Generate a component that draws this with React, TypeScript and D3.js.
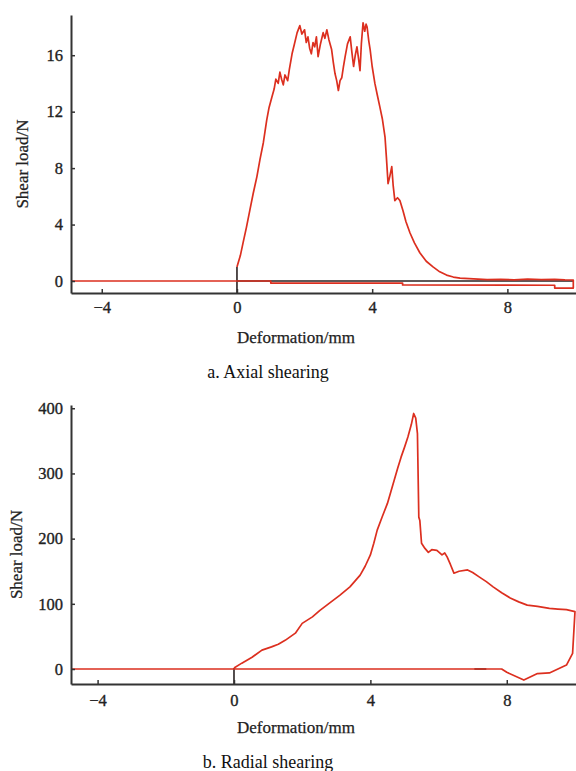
import React, { useEffect, useRef } from "react";
import * as d3 from "d3";

// ---------- Data: (a) Axial shearing ----------
const axialX = [0, 0.1, 0.18, 0.28, 0.38, 0.48, 0.59, 0.68, 0.78, 0.83, 0.88, 0.95, 1.03, 1.1, 1.15, 1.22, 1.27, 1.32, 1.37, 1.42, 1.5, 1.55, 1.63, 1.7, 1.78, 1.86, 1.92, 2.0, 2.05, 2.1, 2.15, 2.2, 2.25, 2.3, 2.35, 2.4, 2.47, 2.55, 2.6, 2.66, 2.72, 2.8, 2.85, 2.9, 2.95, 3.0, 3.05, 3.1, 3.15, 3.2, 3.27, 3.35, 3.4, 3.45, 3.5, 3.55, 3.6, 3.64, 3.68, 3.73, 3.78, 3.82, 3.85, 3.9, 3.94, 4.0, 4.08, 4.15, 4.23, 4.3, 4.38, 4.42, 4.47, 4.52, 4.58, 4.62, 4.67, 4.75, 4.82, 4.91, 5.0, 5.12, 5.25, 5.41, 5.6, 5.8, 6.0, 6.2, 6.4, 6.6, 7.0, 7.4, 7.8, 8.2, 8.6, 9.0, 9.4, 9.7, 9.95, 9.95, 9.4, 9.4, 4.9, 4.9, 1.0, 1.0, -4.91];
const axialY = [1.0, 1.8, 2.7, 3.8, 5.0, 6.2, 7.4, 8.6, 9.8, 10.6, 11.4, 12.3, 13.0, 13.6, 14.3, 14.0, 14.8, 14.3, 13.9, 14.6, 14.2, 15.0, 16.1, 16.8, 17.6, 18.1, 17.5, 17.8, 16.9, 17.3, 16.5, 16.1, 16.9, 16.6, 17.3, 15.9, 16.8, 17.6, 17.2, 17.8, 17.1, 16.4, 15.5, 14.7, 14.2, 13.5, 14.2, 14.4, 15.2, 15.9, 16.8, 17.3, 16.2, 15.2, 16.0, 16.6, 15.7, 14.9, 16.8, 18.3, 17.7, 18.2, 18.0, 17.0, 16.4, 15.2, 14.0, 13.2, 12.3, 11.5, 10.2, 8.8, 6.9, 7.4, 8.1, 6.8, 5.7, 5.9, 5.7, 5.0, 4.2, 3.4, 2.7, 2.0, 1.4, 1.0, 0.65, 0.42, 0.28, 0.2, 0.15, 0.1, 0.12, 0.08, 0.13, 0.1, 0.12, 0.08, 0.07, -0.5, -0.5, -0.3, -0.28, -0.15, -0.15, 0, 0];
const axialBlackX = [0, 0, 0, 9.95];
const axialBlackY = [-0.85, 1.0, 0, 0];

// ---------- Data: (b) Radial shearing ----------
const radialX = [0, 0.23, 0.53, 0.82, 1.1, 1.3, 1.5, 1.8, 2.0, 2.3, 2.52, 2.8, 3.1, 3.4, 3.7, 3.85, 4.0, 4.1, 4.2, 4.35, 4.5, 4.6, 4.7, 4.8, 4.9, 5.0, 5.1, 5.2, 5.27, 5.33, 5.38, 5.42, 5.45, 5.5, 5.6, 5.7, 5.8, 5.95, 6.1, 6.18, 6.25, 6.35, 6.45, 6.6, 6.85, 7.0, 7.2, 7.4, 7.6, 7.85, 8.1, 8.35, 8.6, 8.9, 9.25, 9.5, 9.75, 10.0, 9.93, 9.75, 9.25, 8.9, 8.5, 8.0, 7.85, -4.78];
const radialY = [1.5, 9, 18, 29, 34, 38, 44, 55, 70, 80, 90, 101, 113, 126, 144, 158, 175, 193, 213, 234, 254, 272, 290, 308, 325, 340, 356, 375, 392, 385, 361, 233, 228, 193, 185, 179, 183, 182, 175, 178, 172, 160, 147, 150, 152, 148, 141, 134, 126, 117, 109, 103, 98, 96, 93, 92, 91, 88, 24, 6, -6, -7, -17, -5, 0, 0];
const radialBlackX = [0, 0, 7.05, 7.4];
const radialBlackY = [-23, 1.5, 0, 0];

const axialTicksX = [-4, 0, 4, 8];
const axialTicksY = [0, 4, 8, 12, 16];
const radialTicksX = [-4, 0, 4, 8];
const radialTicksY = [0, 100, 200, 300, 400];

const W = 576;
const H = 771;
const RED = "#dc2f1f";
const FONT = "'Liberation Serif', 'Times New Roman', serif";

type Panel = {
  xs: number[];
  ys: number[];
  bx: number[];
  by: number[];
  xDomain: [number, number];
  yDomain: [number, number];
  top: number;
  bottom: number;
  xTicks: number[];
  yTicks: number[];
  xPad: number;
  xLabelY: number;
  caption: string;
  captionY: number;
  yLabelX: number;
};

const panels: Panel[] = [
  {
    xs: axialX, ys: axialY, bx: axialBlackX, by: axialBlackY,
    xDomain: [-4.91, 10.03], yDomain: [-0.85, 18.85], top: 15, bottom: 293,
    xTicks: axialTicksX, yTicks: axialTicksY, xPad: 8,
    xLabelY: 343, caption: "a. Axial shearing", captionY: 378, yLabelX: 22,
  },
  {
    xs: radialX, ys: radialY, bx: radialBlackX, by: radialBlackY,
    xDomain: [-4.78, 10.03], yDomain: [-23, 405], top: 405, bottom: 684,
    xTicks: radialTicksX, yTicks: radialTicksY, xPad: 10,
    xLabelY: 733, caption: "b. Radial shearing", captionY: 768, yLabelX: 16,
  },
];

export default function App() {
  const ref = useRef<SVGSVGElement | null>(null);

  useEffect(() => {
    const svg = d3.select(ref.current);
    svg.selectAll("*").remove();
    const left = 71;
    const right = 576;

    panels.forEach((p) => {
      const x = d3.scaleLinear().domain(p.xDomain).range([left, right]);
      const y = d3.scaleLinear().domain(p.yDomain).range([p.bottom, p.top]);
      const g = svg.append("g");

      const line = d3
        .line<number>()
        .x((_, i) => x(p.xs[i]))
        .y((_, i) => y(p.ys[i]));

      for (let i = 0; i < p.bx.length; i += 2) {
        g.append("line")
          .attr("x1", x(p.bx[i]))
          .attr("y1", y(p.by[i]))
          .attr("x2", x(p.bx[i + 1]))
          .attr("y2", y(p.by[i + 1]))
          .attr("stroke", "#2a2222")
          .attr("stroke-width", 1.6);
      }

      g.append("path")
        .attr("d", line(p.xs as any) as string)
        .attr("fill", "none")
        .attr("stroke", RED)
        .attr("stroke-width", 1.7)
        .attr("stroke-linejoin", "round");

      const styleText = (sel: any, size: number) =>
        sel
          .attr("font-family", FONT)
          .attr("font-size", size)
          .attr("fill", "#222")
          .attr("stroke", "#222")
          .attr("stroke-width", 0.35);

      const xAxis = d3
        .axisBottom(x)
        .tickValues(p.xTicks)
        .tickSizeInner(-4)
        .tickSizeOuter(0)
        .tickPadding(p.xPad)
        .tickFormat(d3.format("d") as any);
      const gx = g.append("g").attr("transform", `translate(0,${p.bottom})`).call(xAxis);
      gx.attr("font-family", null).attr("font-size", null);
      gx.select(".domain").attr("stroke", "#333").attr("stroke-width", 2);
      gx.selectAll(".tick line").attr("stroke", "#333").attr("stroke-width", 1.5);
      styleText(gx.selectAll(".tick text"), 16.5);

      const yAxis = d3
        .axisLeft(y)
        .tickValues(p.yTicks)
        .tickSizeInner(-4)
        .tickSizeOuter(0)
        .tickPadding(8)
        .tickFormat(d3.format("d") as any);
      const gy = g.append("g").attr("transform", `translate(${left},0)`).call(yAxis);
      gy.attr("font-family", null).attr("font-size", null);
      gy.select(".domain").attr("stroke", "#333").attr("stroke-width", 2);
      gy.selectAll(".tick line").attr("stroke", "#333").attr("stroke-width", 1.5);
      styleText(gy.selectAll(".tick text"), 16.5);

      styleText(
        g.append("text")
          .attr("x", 296)
          .attr("y", p.xLabelY)
          .attr("text-anchor", "middle"),
        17
      ).attr("stroke-width", 0.25).text("Deformation/mm");

      styleText(
        g.append("text")
          .attr("transform", `translate(${p.yLabelX},${(p.top + p.bottom) / 2 + 10}) rotate(-90)`)
          .attr("dy", "0.35em")
          .attr("text-anchor", "middle"),
        17
      ).attr("stroke-width", 0.25).text("Shear load/N");

      g.append("text")
        .attr("x", 268)
        .attr("y", p.captionY)
        .attr("text-anchor", "middle")
        .attr("font-family", FONT)
        .attr("font-size", 18)
        .attr("fill", "#111")
        .text(p.caption);
    });
  }, []);

  return (
    <svg
      ref={ref}
      width={W}
      height={H}
      style={{ position: "absolute", left: 0, top: 0, background: "#fff" }}
    />
  );
}
